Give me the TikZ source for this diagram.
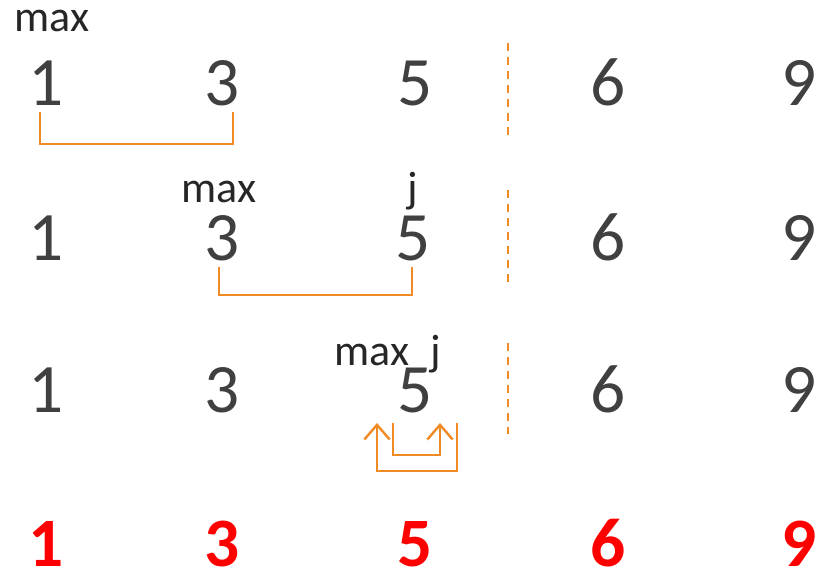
\documentclass[tikz,border=0pt]{standalone}
\usepackage{fontspec}
\setmainfont{Carlito}
\usetikzlibrary{arrows.meta}
\definecolor{digitgray}{HTML}{404040}
\definecolor{labelblack}{HTML}{262626}
\definecolor{brk}{HTML}{F08A24}
\definecolor{resred}{HTML}{FF0000}
\begin{document}
\begin{tikzpicture}[x={(0.75pt,0)},y={(0,-0.75pt)},
  num/.style={inner sep=0,anchor=base,text=digitgray,font=\fontsize{52}{60}\selectfont},
  res/.style={inner sep=0,anchor=base,text=resred,font=\fontsize{52}{60}\selectfont\bfseries},
  lbl/.style={inner sep=0,anchor=base,text=labelblack,font=\fontsize{33}{40}\selectfont},
  brline/.style={draw=brk,line width=1.5pt},
  sep/.style={draw=brk,line width=1.6pt,dash pattern=on 6pt off 4.5pt},
  arr/.style={brline,-{Straight Barb[length=11pt,width=19pt,line width=1.8pt]}}]
\useasboundingbox (0,0) rectangle (816,570);
% row 1
\node[lbl] (m1) at (52,32) {max};
\node[num] (a1) at (46,106) {1};
\node[num] (b1) at (222,106) {3};
\node[num] (c1) at (415,106) {5};
\node[num] (d1) at (608,106) {6};
\node[num] (e1) at (799,106) {9};
\coordinate (s1t) at (508,43);
\coordinate (s1b) at (508,135);
\draw[sep] (s1t) -- (s1b);
\coordinate (p1a) at (40,112);
\coordinate (p1b) at (233,112);
\draw[brline] (p1a) |- (137,144) -| (p1b);
% row 2
\node[lbl] (m2) at (219,203) {max};
\node[lbl] (j2) at (413,203) {j};
\node[num] (a2) at (46,260) {1};
\node[num] (b2) at (222,260) {3};
\node[num] (c2) at (413,260) {5};
\node[num] (d2) at (608,260) {6};
\node[num] (e2) at (799,260) {9};
\coordinate (s2t) at (508,190);
\coordinate (s2b) at (508,282);
\draw[sep] (s2t) -- (s2b);
\coordinate (p2a) at (219,267);
\coordinate (p2b) at (412,267);
\draw[brline] (p2a) |- (315,295) -| (p2b);
% row 3
\node[lbl] (m3) at (372,365) {max};
\node[lbl] (j3) at (436,365) {j};
\node[num] (a3) at (46,412) {1};
\node[num] (b3) at (222,412) {3};
\node[num] (c3) at (415,412) {5};
\node[num] (d3) at (608,412) {6};
\node[num] (e3) at (799,412) {9};
\coordinate (s3t) at (508,343);
\coordinate (s3b) at (508,434);
\draw[sep] (s3t) -- (s3b);
\coordinate (q1s) at (393,423);
\coordinate (q1e) at (440,423);
\draw[arr] (q1s) |- (416,455) -| (q1e);
\coordinate (q2s) at (457,423);
\coordinate (q2e) at (377,423);
\draw[arr] (q2s) |- (417,471) -| (q2e);
% row 4
\node[res] (a4) at (46,566) {1};
\node[res] (b4) at (222,566) {3};
\node[res] (c4) at (415,566) {5};
\node[res] (d4) at (608,566) {6};
\node[res] (e4) at (799,566) {9};
\end{tikzpicture}
\end{document}
